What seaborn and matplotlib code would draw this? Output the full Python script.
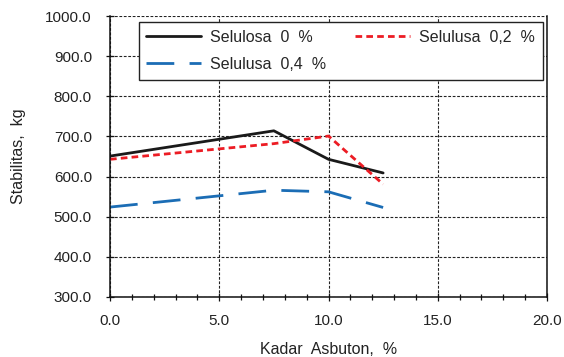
import matplotlib
matplotlib.use("Agg")
import matplotlib.pyplot as plt
from matplotlib.ticker import MultipleLocator, FormatStrFormatter
import seaborn as sns
import pandas as pd

# Marshall test results: stability vs asbuton content for three cellulose levels
kadar_asbuton = [0.0, 7.5, 10.0, 12.5]
stab_0 = [651, 714, 643, 609]
stab_02 = [643, 682, 701, 581]
stab_04 = [524, 566, 562, 523]
labels = ["Selulosa  0  %", "Selulusa  0,2  %", "Selulusa  0,4  %"]

df = pd.DataFrame({
    "x": kadar_asbuton * 3,
    "y": stab_0 + stab_02 + stab_04,
    "seri": [labels[0]] * 4 + [labels[1]] * 4 + [labels[2]] * 4,
})

sns.set_style("white")
plt.rcParams["font.family"] = ["Liberation Sans", "DejaVu Sans"]

fig = plt.figure(figsize=(5.64, 3.57), dpi=100)
ax = fig.add_axes([110 / 564, 1 - 297 / 357, 437 / 564, 281 / 357])

palette = {labels[0]: "#1a1a1a", labels[1]: "#ec1c24", labels[2]: "#1b6db5"}
dashes = {labels[0]: "", labels[1]: (2.4, 1.5), labels[2]: (10, 5.5)}

sns.lineplot(data=df, x="x", y="y", hue="seri", style="seri",
             palette=palette, dashes=dashes, linewidth=2.0, ax=ax,
             legend=False)

ax.set_xlim(0, 20)
ax.set_ylim(300, 1000)
ax.xaxis.set_major_locator(MultipleLocator(5))
ax.xaxis.set_minor_locator(MultipleLocator(1))
ax.yaxis.set_major_locator(MultipleLocator(100))
ax.xaxis.set_major_formatter(FormatStrFormatter("%.1f"))
ax.yaxis.set_major_formatter(FormatStrFormatter("%.1f"))

ax.grid(True, which="major", color="#222222", linestyle=(0, (2.5, 1.5)),
        linewidth=0.8)
ax.set_axisbelow(True)

for side in ["left", "bottom", "right"]:
    ax.spines[side].set_visible(True)
    ax.spines[side].set_color("#111111")
    ax.spines[side].set_linewidth(1.1)
ax.spines["top"].set_visible(False)

ax.tick_params(axis="both", which="major", direction="inout", length=6,
               width=0.9, color="#111111", labelsize=11, labelcolor="#222222")
ax.tick_params(axis="x", which="minor", direction="inout", length=5,
               width=0.9, color="#111111", bottom=True)
ax.tick_params(axis="x", which="major", pad=9, bottom=True)
ax.tick_params(axis="y", which="major", pad=10, left=True)

ax.set_xlabel("Kadar  Asbuton,  %", fontsize=11.5, color="#222222", labelpad=10)
ax.set_ylabel("Stabilitas,  kg", fontsize=11.5, color="#222222", labelpad=14)

# Legend filled row by row: two entries on top, the third below
lines = ax.get_lines()[:3]
order = [0, 2, 1]
leg = fig.legend([lines[i] for i in order], [labels[i] for i in order],
                 loc="upper right", bbox_to_anchor=(543 / 564, 1 - 22 / 357),
                 ncol=2, fontsize=11.5, frameon=True, fancybox=False,
                 edgecolor="#222222", framealpha=1, handlelength=3.4,
                 handletextpad=0.6, columnspacing=1.8, labelspacing=0.75,
                 borderpad=0.5, borderaxespad=0)
leg.get_frame().set_linewidth(1.0)

fig.savefig("out.png", dpi=100)
